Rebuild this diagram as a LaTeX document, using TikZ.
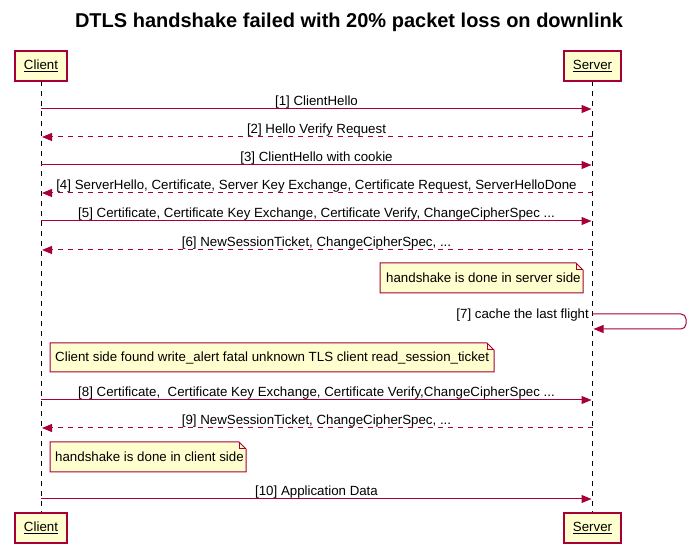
\documentclass[tikz,border=0pt]{standalone}
\usepackage{fontspec}
\setmainfont{Liberation Sans}
\usetikzlibrary{arrows.meta}
\definecolor{pred}{HTML}{A80036}
\definecolor{pfill}{HTML}{FEFECE}
\definecolor{nfill}{HTML}{FEFECE}
\newcommand\notepath[4]{%
  \draw[notebg] (#1,#2) -- (#3-7,#2) -- (#3,#2+7) -- (#3,#4) -- (#1,#4) -- cycle;
  \draw[notebg, fill=none] (#3-7,#2) -- (#3-7,#2+7) -- (#3,#2+7);}
\begin{document}
\begin{tikzpicture}[x=1pt,y=-1pt,
  every node/.style={font=\fontsize{13.3}{15}\selectfont, inner sep=0pt},
  part/.style={draw=pred, fill=pfill, line width=1.2pt, minimum height=30pt, inner sep=0pt},
  life/.style={black, line width=0.8pt, dash pattern=on 5pt off 5pt},
  msg/.style={pred, line width=1pt, shorten >=1pt, -{Triangle[length=10pt,width=8pt]}},
  rmsg/.style={msg, dash pattern=on 5pt off 5pt},
  lbl/.style={anchor=base, text=black},
  notebg/.style={draw=pred, fill=nfill, line width=1pt, line join=miter}]
\useasboundingbox (0,0) rectangle (697,553);
\node[font=\bfseries\fontsize{20}{24}\selectfont, anchor=base] (title) at (349,28) {DTLS handshake failed with 20\% packet loss on downlink};

\coordinate (ctp) at (41,66);
\coordinate (stp) at (592.5,66);
\coordinate (cbp) at (41,528);
\coordinate (sbp) at (592.5,528);
\draw[life] (41,81) -- (41,513);
\draw[life] (592.5,81) -- (592.5,513);
\node[part, minimum width=52pt] (ct) at (ctp) {\underline{Client}};
\node[part, minimum width=57pt] (st) at (stp) {\underline{Server}};
\node[part, minimum width=52pt] (cb) at (cbp) {\underline{Client}};
\node[part, minimum width=57pt] (sb) at (sbp) {\underline{Server}};

% messages
\draw[msg] (ct.center |- 0,109) -- (st.center |- 0,109);
\node[lbl] (m1) at (316.5,105.5) {[1] ClientHello};
\draw[rmsg] (st.center |- 0,137) -- (ct.center |- 0,137);
\node[lbl] (m2) at (316.5,133.5) {[2] Hello Verify Request};
\draw[msg] (ct.center |- 0,165) -- (st.center |- 0,165);
\node[lbl] (m3) at (316.5,161.5) {[3] ClientHello with cookie};
\draw[rmsg] (st.center |- 0,193) -- (ct.center |- 0,193);
\node[lbl] (m4) at (316.5,189.5) {[4] ServerHello, Certificate, Server Key Exchange, Certificate Request, ServerHelloDone};
\draw[msg] (ct.center |- 0,221) -- (st.center |- 0,221);
\node[lbl] (m5) at (316.5,217.5) {[5] Certificate, Certificate Key Exchange, Certificate Verify, ChangeCipherSpec ...};
\draw[rmsg] (st.center |- 0,250) -- (ct.center |- 0,250);
\node[lbl] (m6) at (316.5,246.5) {[6] NewSessionTicket, ChangeCipherSpec, ...};

\notepath{380}{263}{583}{293}
\node[anchor=base west] (n1) at (386,283) {handshake is done in server side};

\draw[msg, rounded corners=5pt] (st.center |- 0,314) -- (686,314) -- (686,329) -- (st.center |- 0,329);
\node[anchor=base east] (m7) at (589,319) {[7] cache the last flight};

\notepath{50}{343}{494}{372}
\node[anchor=base west] (n2) at (55,362) {Client side found write\_alert fatal unknown TLS client read\_session\_ticket};

\draw[msg] (ct.center |- 0,400) -- (st.center |- 0,400);
\node[lbl] (m8) at (316.5,396.5) {[8] Certificate,\ \ Certificate Key Exchange, Certificate Verify,ChangeCipherSpec ...};
\draw[rmsg] (st.center |- 0,428) -- (ct.center |- 0,428);
\node[lbl] (m9) at (316.5,424.5) {[9] NewSessionTicket, ChangeCipherSpec, ...};

\notepath{50}{442}{246}{472}
\node[anchor=base west] (n3) at (55,461.5) {handshake is done in client side};

\draw[msg] (ct.center |- 0,499) -- (st.center |- 0,499);
\node[lbl] (m10) at (316.5,495.5) {[10] Application Data};
\end{tikzpicture}
\end{document}
